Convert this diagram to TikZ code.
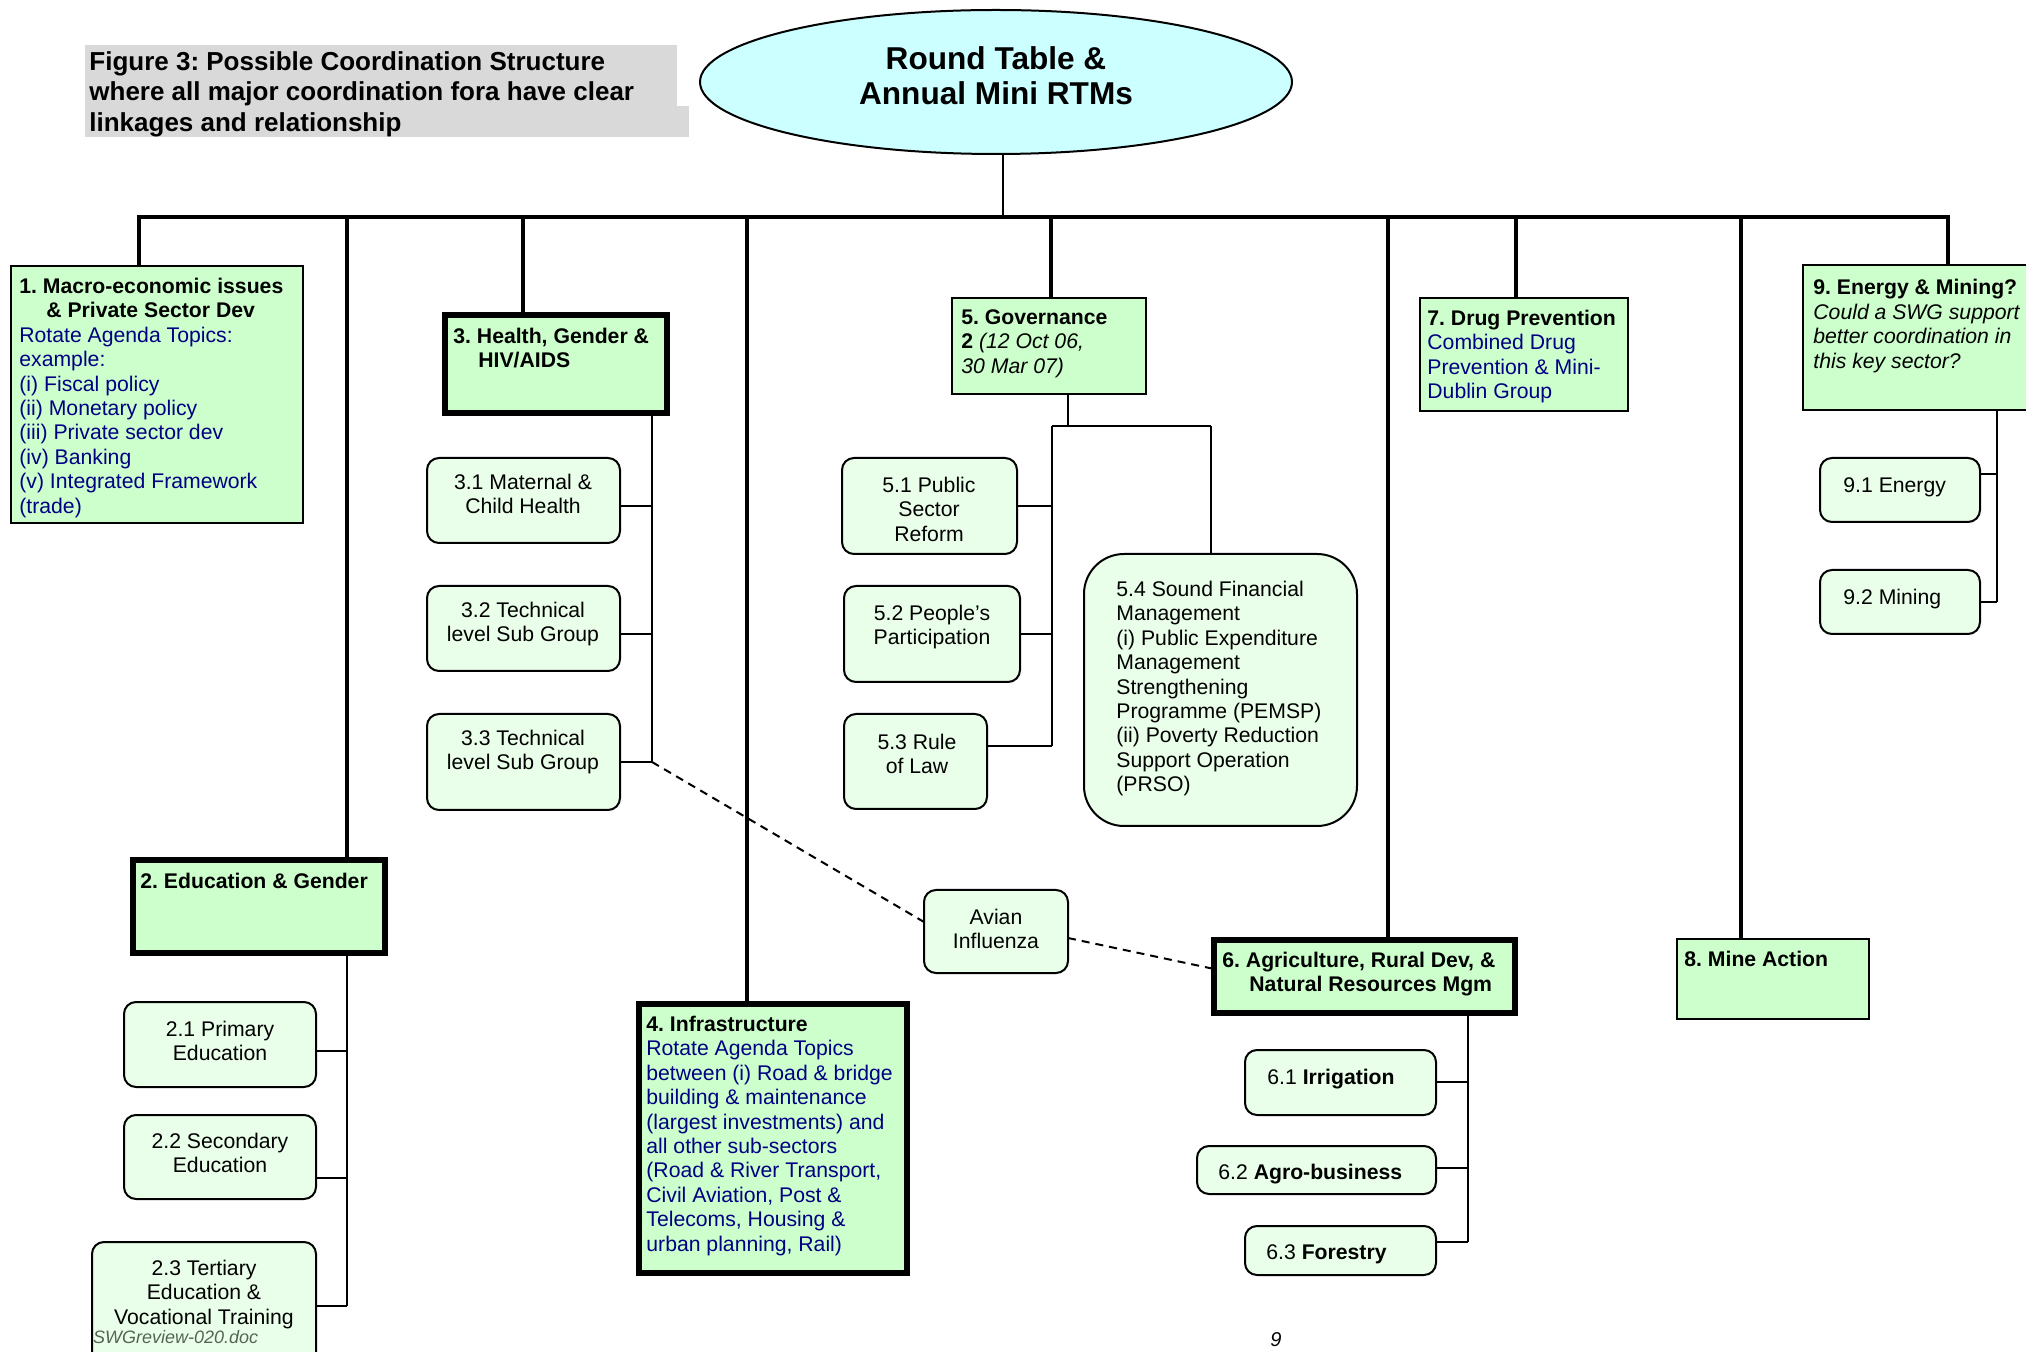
\documentclass[tikz,border=0pt]{standalone}
\usepackage{fontspec}
\setmainfont{Liberation Sans}
\usetikzlibrary{shapes.geometric}
\definecolor{mainfill}{HTML}{CCFFCC}
\definecolor{subfill}{HTML}{EAFFEA}
\definecolor{ellfill}{HTML}{CCFFFF}
\definecolor{capgray}{HTML}{D9D9D9}
\definecolor{bluetxt}{RGB}{0,0,130}
\definecolor{footgray}{RGB}{85,100,85}
\newcommand\bodyfont{\fontsize{10.6}{12.2}\selectfont}
\newcommand\capfont{\fontsize{13}{15.3}\selectfont}
\newcommand\ttlfont{\fontsize{15.8}{17.5}\selectfont}
\newcommand\mkbox[6]{\node[#2, anchor=north west, minimum width={(#5)*0.5pt-(#3)*0.5pt}, minimum height={(#6)*0.5pt-(#4)*0.5pt}] (#1) at (#3,#4) {};}
\frenchspacing
\begin{document}
\begin{tikzpicture}[x=0.5pt,y=-0.5pt,
  mainbox/.style={draw=black, line width=0.9pt, fill=mainfill, inner sep=0pt, outer sep=0pt},
  thickbox/.style={draw=black, line width=3.2pt, fill=mainfill, inner sep=0pt, outer sep=0pt},
  subbox/.style={draw=black, line width=1pt, fill=subfill, rounded corners=6pt, inner sep=0pt, outer sep=0pt},
  bigsub/.style={subbox, rounded corners=20pt},
  bus/.style={line width=1.7pt},
  link/.style={line width=1pt},
  dashlink/.style={line width=1pt, dash pattern=on 4pt off 3pt},
  tl/.style={anchor=north west, inner sep=0pt, align=left, font=\bodyfont},
  tc/.style={anchor=north, inner sep=0pt, align=center, font=\bodyfont}]
\useasboundingbox (0,0) rectangle (2026,1352);
\clip (0,0) rectangle (2026,1352);

% caption
\fill[capgray] (85,45) rectangle (677,106);
\fill[capgray] (85,106) rectangle (689,137);
\node[anchor=north west, inner sep=0pt, align=left, font=\capfont\bfseries] (cap) at (89,48.2)
  {\strut Figure 3: Possible Coordination Structure\\where all major coordination fora have clear\\linkages and relationship};

% round table
\node[draw=black, line width=1pt, fill=ellfill, ellipse, inner sep=0pt, minimum width=296pt, minimum height=72pt] (rt) at (996,82) {};
\node[anchor=north, inner sep=0pt, align=center, font=\ttlfont\bfseries] (rtt) at (996,45) {\strut Round Table \&\\Annual Mini RTMs};

% bus coordinates
\coordinate (bt) at (1003,217);
\coordinate (d1) at (139,217);
\coordinate (d2) at (347,217);
\coordinate (d3) at (523,217);
\coordinate (d4) at (747,217);
\coordinate (d5) at (1051,217);
\coordinate (d6) at (1388,217);
\coordinate (d7) at (1516,217);
\coordinate (d8) at (1741,217);
\coordinate (d9) at (1948,217);

% main boxes
\mkbox{b1}{mainbox}{11}{266}{303}{523}
\mkbox{b2}{thickbox}{132.7}{860.2}{384.8}{952.8}
\mkbox{b3}{thickbox}{445.2}{315.2}{666.8}{412.8}
\mkbox{b4}{thickbox}{639.2}{1004.2}{906.8}{1272.8}
\mkbox{b5}{mainbox}{952}{298}{1146}{394}
\mkbox{b6}{thickbox}{1214.2}{940.2}{1514.8}{1012.8}
\mkbox{b7}{mainbox}{1420}{298}{1628}{411}
\mkbox{b8}{mainbox}{1677}{939}{1869}{1019}
\mkbox{b9}{mainbox}{1803}{265}{2060}{410}

% sub boxes
\mkbox{s21}{subbox}{124}{1002}{316}{1087}
\mkbox{s22}{subbox}{124}{1115}{316}{1199}
\mkbox{s23}{subbox}{92}{1242}{316}{1400}
\mkbox{s31}{subbox}{427}{458}{620}{543}
\mkbox{s32}{subbox}{427}{586}{620}{671}
\mkbox{s33}{subbox}{427}{714}{620}{810}
\mkbox{s51}{subbox}{842}{458}{1017}{554}
\mkbox{s52}{subbox}{844}{586}{1020}{682}
\mkbox{s53}{subbox}{844}{714}{987}{809}
\mkbox{s54}{bigsub}{1084}{554}{1357}{826}
\mkbox{s61}{subbox}{1245}{1050}{1436}{1115}
\mkbox{s62}{subbox}{1197}{1146}{1436}{1194}
\mkbox{s63}{subbox}{1245}{1226}{1436}{1275}
\mkbox{s91}{subbox}{1820}{458}{1980}{522}
\mkbox{s92}{subbox}{1820}{570}{1980}{634}
\mkbox{av}{subbox}{924}{890}{1068}{973}

% bus and drops
\draw[link] (rt.south -| bt) -- (bt);
\draw[bus, line join=miter] (d1 |- b1.north) -- (d1) -- (d9) -- (d9 |- b9.north);
\foreach \d/\b in {d2/b2,d3/b3,d4/b4,d5/b5,d6/b6,d7/b7,d8/b8}{
  \draw[bus] (\d) -- (\d |- \b.north);
}

% education branch
\coordinate (v2) at (347,1306);
\coordinate (c21) at (316,1051);
\coordinate (c22) at (316,1178);
\coordinate (c23) at (316,1306);
\draw[link] (b2.south -| v2) -- (v2);
\draw[link] (c21) -- (c21 -| v2);
\draw[link] (c22) -- (c22 -| v2);
\draw[link] (c23) -- (v2);

% health branch
\coordinate (v3) at (652,762);
\coordinate (c31) at (620,506);
\coordinate (c32) at (620,634);
\coordinate (c33) at (620,762);
\draw[link] (b3.south -| v3) -- (v3);
\draw[link] (c31) -- (c31 -| v3);
\draw[link] (c32) -- (c32 -| v3);
\draw[link] (c33) -- (v3);

% governance branch
\coordinate (g0) at (1068,426);
\coordinate (gL) at (1052,426);
\coordinate (gR) at (1211,426);
\coordinate (gB) at (1052,746);
\coordinate (c51) at (1017,506);
\coordinate (c52) at (1020,634);
\coordinate (c53) at (987,746);
\draw[link] (b5.south -| g0) -- (g0);
\draw[link] (gL) -- (gR);
\draw[link] (gR) -- (gR |- s54.north);
\draw[link] (gL) -- (gB);
\draw[link] (c51) -- (c51 -| gL);
\draw[link] (c52) -- (c52 -| gL);
\draw[link] (c53) -- (gB);

% agriculture branch
\coordinate (v6) at (1468,1242);
\coordinate (c61) at (1436,1082);
\coordinate (c62) at (1436,1168);
\coordinate (c63) at (1436,1242);
\draw[link] (b6.south -| v6) -- (v6);
\draw[link] (c61) -- (c61 -| v6);
\draw[link, line width=1.4pt] (c62) -- (c62 -| v6);
\draw[link] (c63) -- (v6);

% energy branch
\coordinate (v9) at (1997,602.5);
\coordinate (c91) at (1980,474);
\coordinate (c92) at (1980,602.5);
\draw[link] (b9.south -| v9) -- (v9);
\draw[link] (c91) -- (c91 -| v9);
\draw[link] (c92) -- (v9);

% avian influenza links
\draw[dashlink] (v3) -- ([yshift=4.75pt]av.west);
\draw[dashlink] ([yshift=-3.25pt]av.east) -- ([yshift=3.75pt]b6.west);

% texts of main boxes
\node[tl, text=bluetxt] (t1) at (19,276) {\strut\textcolor{black}{\textbf{1. Macro-economic issues}}\\\hspace*{13.5pt}\textcolor{black}{\textbf{\& Private Sector Dev}}\\Rotate Agenda Topics:\\example:\\(i) Fiscal policy\\(ii) Monetary policy\\(iii) Private sector dev\\(iv) Banking\\(v) Integrated Framework\\(trade)};
\node[tl] (t2) at (140,871) {\strut\textbf{2. Education \& Gender}};
\node[tl] (t3) at (453,326) {\strut\textbf{3. Health, Gender \&}\\\hspace*{12.5pt}\textbf{HIV/AIDS}};
\node[tl, text=bluetxt] (t4) at (646,1014) {\strut\textcolor{black}{\textbf{4. Infrastructure}}\\Rotate Agenda Topics\\between (i) Road \& bridge\\building \& maintenance\\(largest investments) and\\all other sub-sectors\\(Road \& River Transport,\\Civil Aviation, Post \&\\Telecoms, Housing \&\\urban planning, Rail)};
\node[tl] (t5) at (961,307) {\strut\textbf{5. Governance}\\\textbf{2} \textit{(12 Oct 06,}\\\textit{30 Mar 07)}};
\node[tl] (t6) at (1222,950) {\strut\textbf{6. Agriculture, Rural Dev, \&}\\\hspace*{13.5pt}\textbf{Natural Resources Mgm}};
\node[tl, text=bluetxt] (t7) at (1427,308) {\strut\textcolor{black}{\textbf{7. Drug Prevention}}\\Combined Drug\\Prevention \& Mini-\\Dublin Group};
\node[tl] (t8) at (1684,949) {\strut\textbf{8. Mine Action}};
\node[tl] (t9) at (1813,277.5) {\strut\textbf{9. Energy \& Mining?}\\\textit{Could a SWG support}\\\textit{better coordination in}\\\textit{this key sector?}};

% texts of sub boxes
\node[tc] (t21) at (220,1019) {\strut 2.1 Primary\\Education};
\node[tc] (t22) at (220,1131) {\strut 2.2 Secondary\\Education};
\node[tc] (t23) at (204,1258) {\strut 2.3 Tertiary\\Education \&\\Vocational Training};
\node[tc] (t31) at (523,472) {\strut 3.1 Maternal \&\\Child Health};
\node[tc] (t32) at (523,600) {\strut 3.2 Technical\\level Sub Group};
\node[tc] (t33) at (523,728) {\strut 3.3 Technical\\level Sub Group};
\node[tc] (t51) at (929,475) {\strut 5.1 Public\\Sector\\Reform};
\node[tc] (t52) at (932,603) {\strut 5.2 People’s\\Participation};
\node[tc] (t53) at (917,732) {\strut 5.3 Rule\\of Law};
\node[tl] (t54) at (1116,579) {\strut 5.4 Sound Financial\\Management\\(i) Public Expenditure\\Management\\Strengthening\\Programme (PEMSP)\\(ii) Poverty Reduction\\Support Operation\\(PRSO)};
\node[tl] (t61) at (1267,1067) {\strut 6.1 \textbf{Irrigation}};
\node[tl] (t62) at (1218,1162) {\strut 6.2 \textbf{Agro-business}};
\node[tl] (t63) at (1266,1242) {\strut 6.3 \textbf{Forestry}};
\node[tl] (t91) at (1843,475) {\strut 9.1 Energy};
\node[tl] (t92) at (1843,587) {\strut 9.2 Mining};
\node[tc] (tav) at (996,907) {\strut Avian\\Influenza};

% footer
\node[anchor=base west, inner sep=0pt, font=\fontsize{9}{10}\selectfont\itshape, text=footgray] (ft) at (92.7,1343) {SWGreview-020.doc};
\node[anchor=base west, inner sep=0pt, font=\fontsize{10}{12}\selectfont\itshape] (pg) at (1270,1346) {9};
\end{tikzpicture}
\end{document}
